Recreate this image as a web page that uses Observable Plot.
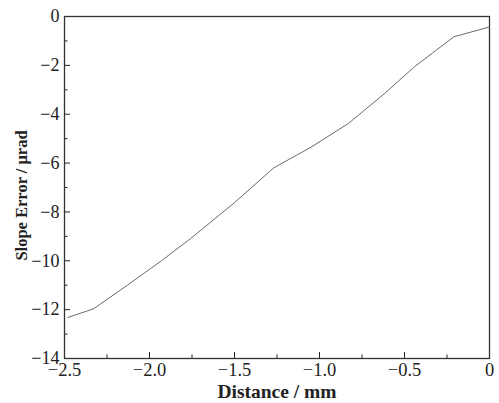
<!DOCTYPE html>
<html>
<head>
<meta charset="utf-8">
<script src="https://cdn.jsdelivr.net/npm/d3@7"></script>
<script src="https://cdn.jsdelivr.net/npm/@observablehq/plot@0.6"></script>
<style>
  html, body { margin: 0; padding: 0; background: #fff; }
  svg { display: block; }
</style>
</head>
<body>
<div id="chart"></div>
<script>
// Data
const distance = [-2.48, -2.33, -2.13, -1.93, -1.76, -1.5, -1.27, -1.05, -0.83, -0.62, -0.44, -0.21, 0];
const slopeError = [-12.32, -11.97, -11.0, -10.0, -9.1, -7.62, -6.2, -5.35, -4.38, -3.17, -2.05, -0.83, -0.43];

const xMajor = [-2.5, -2.0, -1.5, -1.0, -0.5, 0];
const xMinor = [-2.25, -1.75, -1.25, -0.75, -0.25];
const yMajor = [0, -2, -4, -6, -8, -10, -12, -14];
const yMinor = [-1, -3, -5, -7, -9, -11, -13];
const xTitle = "Distance / mm";
const yTitle = "Slope Error / μrad";

const data = distance.map((d, i) => ({x: d, y: slopeError[i]}));
const fmtX = d => d === 0 ? "0" : d3.format(".1f")(d);
const fmtY = d => d === 0 ? "0" : d3.format("d")(d);

const ink = "#222";
const serif = "'Liberation Serif', 'Times New Roman', serif";
const chart = Plot.plot({
  width: 499,
  height: 403,
  marginLeft: 64,
  marginTop: 16,
  marginRight: 10,
  marginBottom: 45,
  style: {fontFamily: serif, color: ink, background: "#fff"},
  x: {domain: [-2.5, 0]},
  y: {domain: [-14, 0]},
  marks: [
    // inward ticks
    Plot.axisX({ticks: xMajor, tickSize: -6, fill: "none", stroke: ink, label: null}),
    Plot.axisX({ticks: xMinor, tickSize: -3.5, fill: "none", stroke: ink, label: null}),
    Plot.axisY({ticks: yMajor, tickSize: -6, fill: "none", stroke: ink, label: null}),
    Plot.axisY({ticks: yMinor, tickSize: -3.5, fill: "none", stroke: ink, label: null}),
    // tick labels
    Plot.axisX({ticks: xMajor, tickSize: 0, tickPadding: 4, tickFormat: fmtX, fontSize: 18.5, fontFamily: serif, fill: ink, label: null}),
    Plot.axisY({ticks: yMajor, tickSize: 0, tickPadding: 5, tickFormat: fmtY, fontSize: 18, fontFamily: serif, fill: ink, label: null}),
    Plot.frame({stroke: "#333", strokeWidth: 1.3}),
    Plot.line(data, {x: "x", y: "y", stroke: "#6a6a6a", strokeWidth: 1}),
    // axis titles
    Plot.text([xTitle], {text: d => d, frameAnchor: "bottom", dy: 39, fontSize: 19.5, fontFamily: serif, fontWeight: "bold", fill: ink}),
    Plot.text([yTitle], {text: d => d, frameAnchor: "left", textAnchor: "middle", rotate: -90, dx: -43, dy: 8, fontSize: 16.5, fontFamily: serif, fontWeight: "bold", fill: ink})
  ]
});
document.getElementById("chart").appendChild(chart);
</script>
</body>
</html>
